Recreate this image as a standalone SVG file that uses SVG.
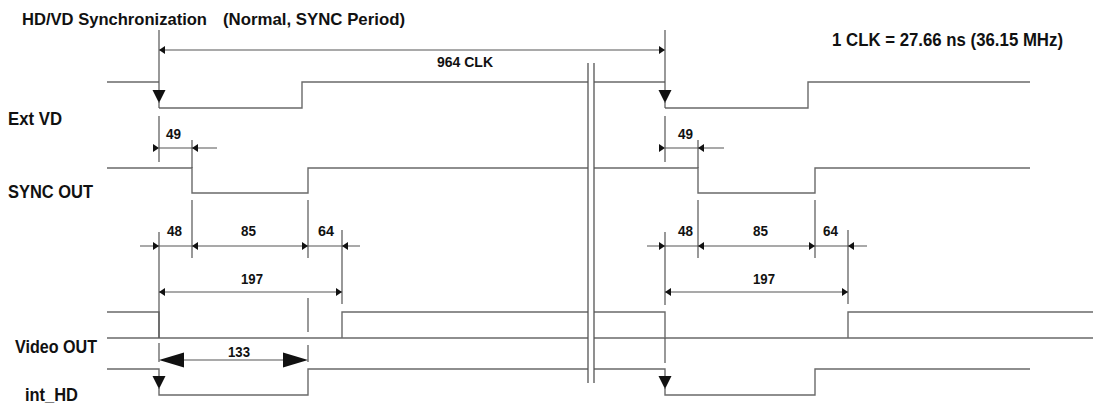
<svg xmlns="http://www.w3.org/2000/svg" width="1096" height="408" viewBox="0 0 1096 408">
<defs>
<style>
.sig{fill:none;stroke:#6a6a6a;stroke-width:1.4}
.dim{fill:none;stroke:#555;stroke-width:1.2}
.brk{fill:none;stroke:#555;stroke-width:1.3}
.ah{fill:#111;stroke:none}
text{font-family:"Liberation Sans",Arial,sans-serif;font-weight:bold;fill:#111}
.lbl{font-size:18px}
.ttl{font-size:17px}
.num{font-size:15px}
</style>
<path id="ar" d="M0,0 L-6,-4 L-6,4 Z"/>
<path id="al" d="M0,0 L6,-4 L6,4 Z"/>
<path id="ad" d="M0,0 L-6.5,-13 L6.5,-13 Z"/>
</defs>
<rect width="1096" height="408" fill="#fff"/>

<g id="title">
<text class="ttl" x="22" y="25" textLength="185" lengthAdjust="spacingAndGlyphs">HD/VD Synchronization</text>
<text class="ttl" x="223" y="25" textLength="182" lengthAdjust="spacingAndGlyphs">(Normal, SYNC Period)</text>
<text class="lbl" x="832" y="46" textLength="231" lengthAdjust="spacingAndGlyphs">1 CLK = 27.66 ns (36.15 MHz)</text>
</g>

<g id="labels">
<text class="lbl" x="8" y="125" textLength="54" lengthAdjust="spacingAndGlyphs">Ext VD</text>
<text class="lbl" x="8" y="198" textLength="85" lengthAdjust="spacingAndGlyphs">SYNC OUT</text>
<text class="lbl" x="15" y="353" textLength="82" lengthAdjust="spacingAndGlyphs">Video OUT</text>
<text class="lbl" x="25" y="401" textLength="53" lengthAdjust="spacingAndGlyphs">int_HD</text>
</g>

<g id="ext-vd">
<path class="sig" d="M107,82 H159 M159,108 H302 V82 H588"/>
<path class="sig" d="M594,82 H665 M665,108 H808 V82 H1030"/>
</g>

<g id="sync-out">
<path class="sig" d="M107,168 H192 V193 H308 V168 H588"/>
<path class="sig" d="M594,168 H698 V193 H815 V168 H1030"/>
</g>

<g id="video-out">
<path class="sig" d="M107,312 H159 V338 M342,338 V312 H588"/>
<path class="sig" d="M594,312 H665 V338 M848,338 V312 H1093"/>
<path class="sig" d="M107,338 H588 M594,338 H1093"/>
</g>

<g id="int-hd">
<path class="sig" d="M107,369 H159 V377 M159,388 V395 H308 V369 H588"/>
<path class="sig" d="M594,369 H665 V377 M665,388 V395 H815 V369 H1030"/>
</g>

<g id="break">
<path class="brk" d="M588,63 V383 M594,63 V383"/>
</g>

<g id="connectors">
<path class="dim" d="M159,50 H665"/>
<use href="#al" x="159" y="50" class="ah"/>
<use href="#ar" x="665" y="50" class="ah"/>
<text class="num" x="437" y="67" textLength="56" lengthAdjust="spacingAndGlyphs">964 CLK</text>

<path class="dim" d="M159,30 V90 M159,102 V108 M159,116 V162 M159,232 V338 M159,343 V362"/>
<use href="#ad" x="159" y="103" class="ah"/>
<use href="#ad" x="159" y="389" class="ah"/>
<path class="dim" d="M192,140 V168 M192,200 V258 M308,200 V258 M342,230 V304"/>
<path class="dim" d="M308,298 V332 M308,345 V362"/>

<path class="dim" d="M665,30 V90 M665,102 V108 M665,116 V162 M665,232 V305 M665,338 V363"/>
<use href="#ad" x="665" y="103" class="ah"/>
<use href="#ad" x="665" y="389" class="ah"/>
<path class="dim" d="M698,140 V168 M698,200 V258 M815,200 V258 M848,230 V304"/>

<path class="dim" d="M159,148 H217"/>
<use href="#ar" x="159" y="148" class="ah"/>
<use href="#al" x="192" y="148" class="ah"/>
<text class="num" x="166" y="139" textLength="15" lengthAdjust="spacingAndGlyphs">49</text>
<path class="dim" d="M665,148 H724"/>
<use href="#ar" x="665" y="148" class="ah"/>
<use href="#al" x="698" y="148" class="ah"/>
<text class="num" x="678" y="139" textLength="15" lengthAdjust="spacingAndGlyphs">49</text>

<path class="dim" d="M140,246 H360"/>
<use href="#ar" x="159" y="246" class="ah"/>
<use href="#al" x="192" y="246" class="ah"/>
<use href="#ar" x="308" y="246" class="ah"/>
<use href="#al" x="342" y="246" class="ah"/>
<text class="num" x="167" y="236" textLength="15" lengthAdjust="spacingAndGlyphs">48</text>
<text class="num" x="241" y="236" textLength="15" lengthAdjust="spacingAndGlyphs">85</text>
<text class="num" x="318" y="236" textLength="16" lengthAdjust="spacingAndGlyphs">64</text>
<path class="dim" d="M647,246 H867"/>
<use href="#ar" x="665" y="246" class="ah"/>
<use href="#al" x="698" y="246" class="ah"/>
<use href="#ar" x="815" y="246" class="ah"/>
<use href="#al" x="848" y="246" class="ah"/>
<text class="num" x="678" y="236" textLength="15" lengthAdjust="spacingAndGlyphs">48</text>
<text class="num" x="753" y="236" textLength="15" lengthAdjust="spacingAndGlyphs">85</text>
<text class="num" x="823" y="236" textLength="15" lengthAdjust="spacingAndGlyphs">64</text>

<path class="dim" d="M159,292 H342"/>
<use href="#al" x="159" y="292" class="ah"/>
<use href="#ar" x="342" y="292" class="ah"/>
<text class="num" x="241" y="284" textLength="22" lengthAdjust="spacingAndGlyphs">197</text>
<path class="dim" d="M665,292 H848"/>
<use href="#al" x="665" y="292" class="ah"/>
<use href="#ar" x="848" y="292" class="ah"/>
<text class="num" x="753" y="284" textLength="22" lengthAdjust="spacingAndGlyphs">197</text>

<path class="dim" d="M170,360 H300"/>
<path class="ah" d="M159,360 L184,352.5 L184,367.5 Z"/>
<path class="ah" d="M308,360 L283,352.5 L283,367.5 Z"/>
<text class="num" x="228" y="357" textLength="22" lengthAdjust="spacingAndGlyphs">133</text>
</g>
</svg>
